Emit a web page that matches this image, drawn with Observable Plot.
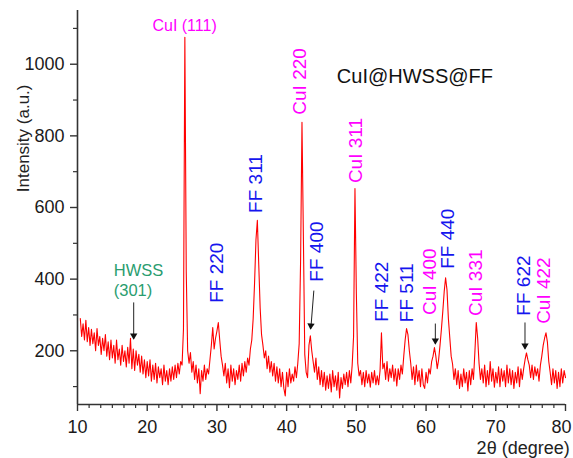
<!DOCTYPE html>
<html><head><meta charset="utf-8">
<script src="https://cdn.jsdelivr.net/npm/d3@7"></script>
<script src="https://cdn.jsdelivr.net/npm/@observablehq/plot@0.6"></script>
<style>body{margin:0;background:#fff} svg{display:block}</style>
</head><body><div id="chart"></div>
<script>
// XRD pattern: 2θ sampling grid and intensities
const thetaStart = 10.4, thetaStep = 0.2;
const intensity = [
  290, 240, 275,
  230, 285, 225, 265, 215,
  260, 220, 250, 200, 262,
  215, 240, 190, 235, 200,
  245, 185, 225, 175, 230,
  180, 215, 165, 230, 175,
  205, 160, 215, 170, 200,
  155, 210, 165, 235, 150,
  205, 145, 200, 160, 190,
  140, 185, 135, 175, 125,
  170, 130, 175, 115, 160,
  120, 165, 110, 155, 125,
  150, 105, 160, 115, 145,
  105, 150, 115, 155, 120,
  160, 125, 165, 135, 170,
  160, 260, 1075, 420, 200,
  165, 195, 140, 170, 120,
  160, 110, 150, 80, 145,
  115, 160, 120, 150, 135,
  175, 215, 265, 205, 235,
  255, 279, 230, 185, 160,
  130, 165, 110, 150, 97,
  160, 115, 150, 105, 145,
  120, 160, 115, 165, 130,
  170, 140, 180, 160, 205,
  230, 290, 390, 510, 564,
  440, 320, 245, 215, 180,
  200, 150, 185, 140, 170,
  130, 165, 115, 155, 110,
  150, 100, 140, 95, 74,
  140, 100, 150, 110, 135,
  115, 155, 125, 165, 220,
  450, 838, 520, 190, 140,
  125, 215, 242, 200, 170,
  140, 180, 120, 155, 105,
  145, 100, 140, 90, 130,
  95, 135, 85, 145, 100,
  130, 90, 140, 68, 125,
  95, 135, 105, 140, 100,
  145, 110, 160, 240, 653,
  360, 165, 130, 145, 105,
  140, 100, 145, 110, 135,
  98, 140, 110, 145, 105,
  130, 105, 145, 250, 150,
  165, 120, 170, 115, 150,
  125, 160, 115, 150, 102,
  150, 120, 160, 135, 185,
  230, 262, 245, 200, 165,
  120, 155, 105, 160, 115,
  145, 100, 150, 105, 95,
  140, 110, 150, 135, 170,
  185, 209, 185, 150, 175,
  215, 260, 310, 365, 404,
  370, 290, 237, 185, 163,
  120, 150, 105, 145, 95,
  135, 100, 150, 110, 140,
  88, 145, 105, 150, 120,
  195, 279, 235, 165, 120,
  150, 110, 160, 100, 145,
  105, 170, 115, 150, 98,
  140, 110, 155, 100, 150,
  115, 145, 100, 160, 110,
  150, 105, 145, 95, 140,
  110, 155, 100, 150, 120,
  150, 175, 194, 175, 160,
  125, 160, 120, 155, 130,
  150, 115, 160, 185, 215,
  235, 250, 225, 170, 140,
  105, 150, 110, 145, 95,
  140, 100, 150, 110, 145,
  125
];

const xTicks = [10, 20, 30, 40, 50, 60, 70, 80];
const xTickLabels = ["10", "20", "30", "40", "50", "60", "70", "80"];
const yTicks = [200, 400, 600, 800, 1000];
const yTickLabels = ["200", "400", "600", "800", "1000"];
const yMinorTicks = [100, 300, 500, 700, 900, 1100];

// peak labels
const labelText  = ["CuI (111)", "CuI 220", "FF 311", "CuI 311", "FF 220", "FF 400", "FF 422", "FF 511", "CuI 400", "FF 440", "CuI 331", "FF 622", "CuI 422"];
const labelTheta = [25.36, 41.9, 35.6, 49.9, 30.04, 44.33, 53.61, 57.19, 60.61, 63.19, 67.19, 74.04, 76.9];
const labelInt   = [1108, 952, 667, 759, 418, 477, 365, 362, 393, 513, 390, 382, 368];
const labelColor = ["#ff00ff", "#ff00ff", "#1515ee", "#ff00ff", "#1515ee", "#1515ee", "#1515ee", "#1515ee", "#ff00ff", "#1515ee", "#ff00ff", "#1515ee", "#ff00ff"];
const labelAngle = [0, -90, -90, -90, -90, -90, -90, -90, -90, -90, -90, -90, -90];
const labelSize  = [16, 19, 19, 19, 19, 19, 19, 19, 19, 19, 19, 19, 19];

// HWSS label and sample title
const hwssLines = ["HWSS", "(301)"];
const hwssTheta = [15.2, 15.2];
const hwssInt = [424, 368];
const titleText = "CuI@HWSS@FF";
const titleTheta = 47.2, titleInt = 966;

// arrows
const arrowX1 = [18.06, 43.9, 61.33, 74.19];
const arrowY1 = [335, 368, 276, 279];
const arrowX2 = [18.06, 43.47, 61.33, 74.19];
const arrowY2 = [234, 262, 220, 206];
const arrowRot = [180, 184.5, 180, 180];

const data = intensity.map((v, i) => ({t: +(thetaStart + i * thetaStep).toFixed(2), v}));
const labels = labelText.map((s, i) => ({s, t: labelTheta[i], v: labelInt[i], c: labelColor[i], r: labelAngle[i], f: labelSize[i]}));
const hwss = hwssLines.map((s, i) => ({s, t: hwssTheta[i], v: hwssInt[i]}));
const arrows = arrowX1.map((x1, i) => ({x1, y1: arrowY1[i], x2: arrowX2[i], y2: arrowY2[i], r: arrowRot[i]}));
const xMinor = d3.range(0, 43).map(i => 10 + i * 10 / 6).filter(t => Math.abs(t / 10 - Math.round(t / 10)) > 1e-6 && t <= 80);
const xLab = xTicks.map((t, i) => ({t, s: xTickLabels[i]}));
const xLabInner = xLab.filter(d => d.t < 80);
const xLabLast = xLab.filter(d => d.t === 80);

const font = "'Liberation Sans', Arial, sans-serif";
const plot = Plot.plot({
  width: 573, height: 458,
  marginLeft: 77, marginRight: 8, marginTop: 10, marginBottom: 54,
  style: {fontFamily: font, background: "#fff", overflow: "visible"},
  x: {domain: [10, 80]},
  y: {domain: [50, 1150]},
  marks: [
    Plot.line(data, {x: "t", y: "v", stroke: "#ff0000", strokeWidth: 1.1}),
    Plot.ruleX([10], {y1: 50, y2: 1150, stroke: "#333", strokeWidth: 1.6}),
    Plot.ruleY([50], {x1: 10, x2: 80, stroke: "#333", strokeWidth: 1.6}),
    Plot.axisX(xTicks, {tickSize: 7, tickFormat: () => "", label: null, stroke: "#333", strokeWidth: 1.4}),
    Plot.text(xLabInner, {x: "t", y: -14, text: "s", fontSize: 18, fill: "#1a1a1a"}),
    Plot.text(xLabLast, {x: "t", y: -14, text: "s", dx: -4, fontSize: 18, fill: "#1a1a1a"}),
    Plot.axisX(xMinor, {tickSize: 4, tickFormat: () => "", label: null, stroke: "#333", strokeWidth: 1.2}),
    Plot.axisY(yTicks, {tickSize: 7, tickPadding: 6, fontSize: 18, label: null, tickFormat: d => yTickLabels[yTicks.indexOf(d)], stroke: "#333", strokeWidth: 1.4, fill: "#1a1a1a"}),
    Plot.axisY(yMinorTicks, {tickSize: 4, tickFormat: () => "", label: null, stroke: "#333", strokeWidth: 1.2}),
    Plot.text(["Intensity (a.u.)"], {x: 2.3, y: 793, text: d => d, rotate: -90, fontSize: 17, fill: "#222"}),
    Plot.text(["2θ (degree)"], {x: 80.6, y: -73, text: d => d, textAnchor: "end", fontSize: 18, fill: "#222"}),
    Plot.text(labels, {x: "t", y: "v", text: "s", fill: "c", rotate: "r", fontSize: "f"}),
    Plot.text(hwss, {x: "t", y: "v", text: "s", textAnchor: "start", fill: "#2a9d6f", fontSize: 16.5}),
    Plot.text([titleText], {x: titleTheta, y: titleInt, text: d => d, textAnchor: "start", fontSize: 20, fill: "#111"}),
    Plot.link(arrows, {x1: "x1", y1: "y1", x2: "x2", y2: "y2", stroke: "#222", strokeWidth: 1}),
    Plot.dot(arrows, {x: "x2", y: "y2", dy: -3, symbol: "triangle2", r: 3.5, fill: "#111", stroke: "none", rotate: "r"})
  ]
});
document.getElementById("chart").appendChild(plot);
</script>
</body></html>
